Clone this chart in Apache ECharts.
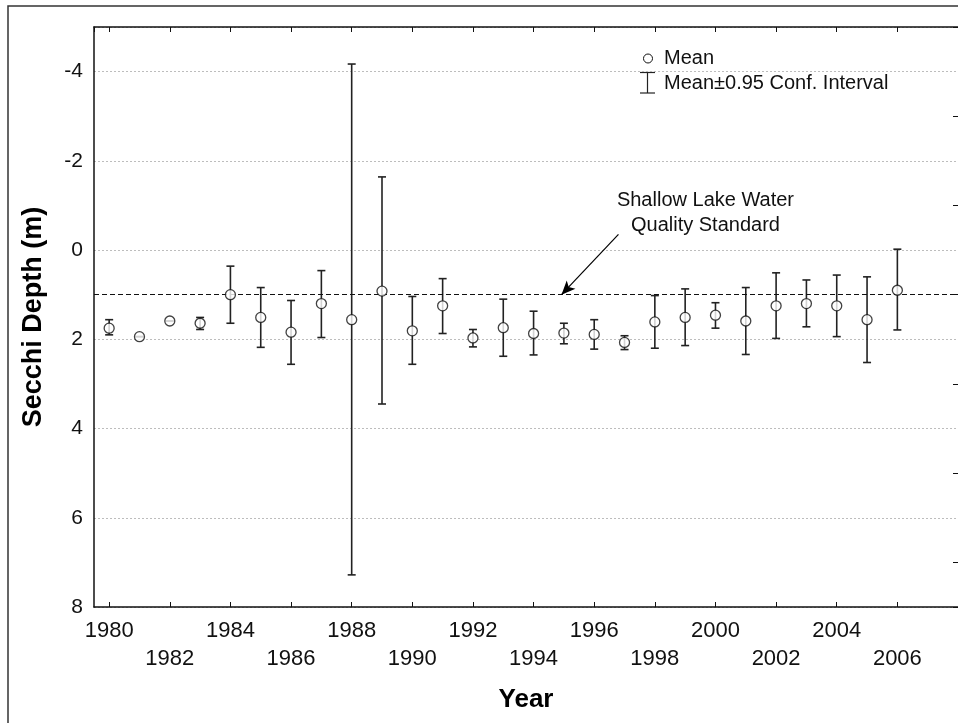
<!DOCTYPE html>
<html>
<head>
<meta charset="utf-8">
<script src="https://cdn.jsdelivr.net/npm/echarts@6/dist/echarts.min.js"></script>
<style>html,body{margin:0;padding:0;background:#fff;}#chart{width:958px;height:723px;}</style>
</head>
<body>
<div id="chart"></div>
<script>
const years = [1980,1981,1982,1983,1984,1985,1986,1987,1988,1989,1990,1991,1992,1993,1994,1995,1996,1997,1998,1999,2000,2001,2002,2003,2004,2005,2006];
const meanDepth = [1.75,1.94,1.59,1.64,1.00,1.51,1.84,1.20,1.56,0.92,1.81,1.25,1.97,1.74,1.87,1.86,1.89,2.07,1.61,1.51,1.46,1.59,1.25,1.20,1.25,1.56,0.90];
const ciLow = [1.56,1.94,1.59,1.51,0.36,0.84,1.13,0.46,-4.17,-1.64,1.04,0.64,1.78,1.10,1.37,1.64,1.56,1.92,1.02,0.87,1.18,0.84,0.51,0.67,0.56,0.60,-0.02];
const ciHigh = [1.90,1.94,1.59,1.78,1.64,2.18,2.56,1.96,7.28,3.45,2.56,1.87,2.17,2.38,2.35,2.10,2.22,2.23,2.20,2.14,1.75,2.34,1.98,1.72,1.94,2.52,1.79];
const standardDepth = 1.0;
const yTickLabels = [-4,-2,0,2,4,6,8];
const xLabelYears = [1980,1982,1984,1986,1988,1990,1992,1994,1996,1998,2000,2002,2004,2006];

const FONT = "'Liberation Sans', Arial, Helvetica, sans-serif";
const chart = echarts.init(document.getElementById('chart'), null, {renderer: 'canvas'});

const meanData = years.map((y, i) => [y, meanDepth[i]]);
const ciData = years.map((y, i) => [y, ciLow[i], ciHigh[i]]);

const option = {
  backgroundColor: '#ffffff',
  animation: false,
  textStyle: {fontFamily: FONT},
  grid: {left: 94, top: 27, width: 866, height: 580, containLabel: false},
  xAxis: [
    {
      type: 'value', position: 'bottom', min: 1979.5, max: 2008, splitNumber: 14,
      name: 'Year', nameLocation: 'middle', nameGap: 80,
      nameTextStyle: {fontFamily: FONT, fontSize: 26, fontWeight: 'bold', color: '#000'},
      axisLine: {show: true, onZero: false, lineStyle: {color: '#111', width: 1.5}},
      axisTick: {show: true, inside: true, length: 5, lineStyle: {color: '#111', width: 1}},
      axisLabel: {
        show: true, margin: 10, fontFamily: FONT, fontSize: 22, color: '#111', lineHeight: 28,
        showMinLabel: false, showMaxLabel: false,
        formatter: function (v) {
          if (xLabelYears.indexOf(v) < 0) return '';
          return ((v - 1980) % 4 === 0) ? String(v) : '\n' + v;
        }
      },
      splitLine: {show: false}
    },
    {
      type: 'value', position: 'top', min: 1979.5, max: 2008, splitNumber: 14,
      axisLine: {show: true, onZero: false, lineStyle: {color: '#111', width: 1.5}},
      axisTick: {show: true, inside: true, length: 5, lineStyle: {color: '#111', width: 1}},
      axisLabel: {show: false},
      splitLine: {show: false}
    }
  ],
  yAxis: [
    {
      type: 'value', inverse: true, min: -5, max: 8, splitNumber: 6,
      name: 'Secchi Depth (m)', nameLocation: 'middle', nameGap: 47,
      nameTextStyle: {fontFamily: FONT, fontSize: 27, fontWeight: 'bold', color: '#000'},
      axisLine: {show: true, onZero: false, lineStyle: {color: '#111', width: 1.5}},
      axisTick: {show: false},
      axisLabel: {
        show: true, margin: 11, fontFamily: FONT, fontSize: 21, color: '#111',
        formatter: function (v) { return yTickLabels.indexOf(v) >= 0 ? String(v) : ''; }
      },
      splitLine: {show: true, lineStyle: {color: '#bdbdbd', width: 1, type: [2, 2]}}
    },
    {
      type: 'value', inverse: true, min: -5, max: 8, interval: 2, position: 'right',
      axisLine: {show: false, onZero: false},
      axisTick: {show: true, inside: true, length: 5, lineStyle: {color: '#111', width: 1}},
      axisLabel: {show: false},
      splitLine: {show: false}
    }
  ],
  series: [
    {
      name: 'Mean±0.95 Conf. Interval',
      type: 'custom',
      xAxisIndex: 0, yAxisIndex: 0,
      encode: {x: 0, y: [1, 2]},
      data: ciData,
      z: 3,
      renderItem: function (params, api) {
        const x = api.value(0);
        const p1 = api.coord([x, api.value(1)]);
        const p2 = api.coord([x, api.value(2)]);
        const hw = 4;
        const st = {stroke: '#222', lineWidth: 1.6};
        return {
          type: 'group',
          children: [
            {type: 'line', shape: {x1: p1[0], y1: p1[1], x2: p2[0], y2: p2[1]}, style: st},
            {type: 'line', shape: {x1: p1[0] - hw, y1: p1[1], x2: p1[0] + hw, y2: p1[1]}, style: st},
            {type: 'line', shape: {x1: p2[0] - hw, y1: p2[1], x2: p2[0] + hw, y2: p2[1]}, style: st}
          ]
        };
      }
    },
    {
      name: 'Mean',
      type: 'scatter',
      xAxisIndex: 0, yAxisIndex: 0,
      data: meanData,
      symbol: 'circle',
      symbolSize: 10,
      z: 5,
      itemStyle: {color: '#ffffff', borderColor: '#111', borderWidth: 1.3},
      markLine: {
        silent: true,
        symbol: ['none', 'none'],
        label: {show: false},
        lineStyle: {color: '#111', width: 1, type: [5, 3]},
        data: [{yAxis: standardDepth}]
      }
    },
    {
      name: 'annotation',
      type: 'scatter',
      xAxisIndex: 0, yAxisIndex: 0,
      data: [],
      markLine: {
        silent: true,
        symbol: ['none', 'arrow'],
        symbolSize: [9, 14],
        label: {show: false},
        lineStyle: {color: '#000', width: 1.2, type: 'solid'},
        data: [[{coord: [1996.8, -0.35]}, {coord: [1994.92, standardDepth]}]]
      },
      markPoint: {
        silent: true,
        symbol: 'circle',
        symbolSize: 0,
        label: {
          show: true, position: 'inside', fontFamily: FONT, fontSize: 20, lineHeight: 25,
          color: '#111', align: 'center', verticalAlign: 'middle',
          formatter: 'Shallow Lake Water\nQuality Standard'
        },
        data: [{coord: [1999.67, -0.83]}]
      }
    }
  ],
  graphic: [
    {
      type: 'rect', silent: true, z: 100,
      shape: {x: 8, y: 6, width: 1000, height: 1000},
      style: {fill: 'none', stroke: '#333', lineWidth: 1.5}
    },
    {
      type: 'group', z: 100,
      children: [
        {type: 'circle', shape: {cx: 648, cy: 58.5, r: 4.5}, style: {fill: '#fff', stroke: '#111', lineWidth: 1}},
        {type: 'text', x: 664, y: 58.5, style: {text: 'Mean', font: '20px ' + FONT, fill: '#111', textVerticalAlign: 'middle', verticalAlign: 'middle'}},
        {type: 'line', shape: {x1: 647.5, y1: 72.5, x2: 647.5, y2: 93}, style: {stroke: '#222', lineWidth: 1.2}},
        {type: 'line', shape: {x1: 640, y1: 72.5, x2: 655, y2: 72.5}, style: {stroke: '#222', lineWidth: 1.2}},
        {type: 'line', shape: {x1: 640, y1: 93, x2: 655, y2: 93}, style: {stroke: '#222', lineWidth: 1.2}},
        {type: 'text', x: 664, y: 83.5, style: {text: 'Mean±0.95 Conf. Interval', font: '20px ' + FONT, fill: '#111', textVerticalAlign: 'middle', verticalAlign: 'middle'}}
      ]
    }
  ]
};
chart.setOption(option);
</script>
</body>
</html>
